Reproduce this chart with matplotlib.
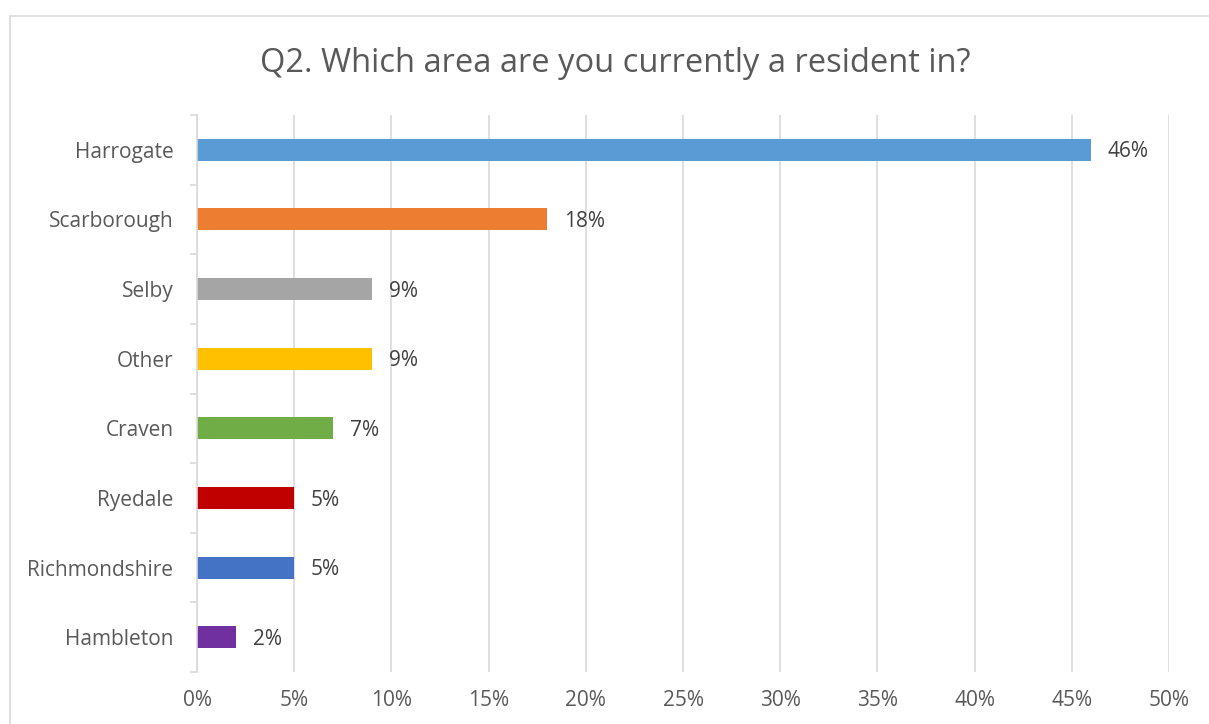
import matplotlib.pyplot as plt
from matplotlib.patches import Rectangle
from matplotlib.ticker import FuncFormatter

areas = ['Harrogate', 'Scarborough', 'Selby', 'Other', 'Craven', 'Ryedale',
         'Richmondshire', 'Hambleton']
shares = [46, 18, 9, 9, 7, 5, 5, 2]
colors = ['#5B9BD5', '#ED7D31', '#A5A5A5', '#FFC000', '#70AD47', '#C00000',
          '#4472C4', '#7030A0']

plt.rcParams['font.family'] = ['Open Sans', 'DejaVu Sans']
txt = '#595959'
grid = '#D9D9D9'

fig = plt.figure(figsize=(12.09, 7.24), dpi=100)
fig.patches.append(Rectangle((10/1209, -0.1), 1.2, 1 - 16/724 + 0.1,
                             transform=fig.transFigure, fill=False,
                             edgecolor=grid, lw=1.2))
ax = fig.add_axes([197/1209, 1 - 672/724, (1169-197)/1209, (672-115)/724])

ypos = list(range(len(areas)))[::-1]
ax.barh(ypos, shares, height=0.316, color=colors, zorder=3)
for y, v in zip(ypos, shares):
    ax.annotate('%d%%' % v, (v, y), xytext=(12, -1.5), textcoords='offset points',
                va='center', ha='left', fontsize=15, color='#404040')

ax.set_xlim(0, 50)
ax.set_ylim(-0.5, len(areas) - 0.5)
ax.set_xticks(range(0, 51, 5))
ax.xaxis.set_major_formatter(FuncFormatter(lambda x, p: '%d%%' % x))
ax.set_yticks(ypos)
ax.set_yticklabels(areas)
ax.set_yticks([i - 0.5 for i in range(len(areas) + 1)], minor=True)
ax.tick_params(axis='y', which='major', length=0, pad=17, labelsize=15, labelcolor=txt)
ax.tick_params(axis='y', which='minor', length=5, color=grid, width=1.2)
ax.tick_params(axis='x', length=0, pad=13, labelsize=15, labelcolor=txt)
ax.grid(axis='x', color=grid, lw=1.2, zorder=0)
for s in ['top', 'right', 'bottom']:
    ax.spines[s].set_visible(False)
ax.spines['left'].set_color(grid)
ax.spines['left'].set_linewidth(1.2)
ax.spines['left'].set_zorder(4)

fig.text(615/1209, 1 - 63/724, 'Q2. Which area are you currently a resident in?',
         ha='center', va='center', fontsize=23.5, color=txt)

fig.savefig('out.png', dpi=100)
